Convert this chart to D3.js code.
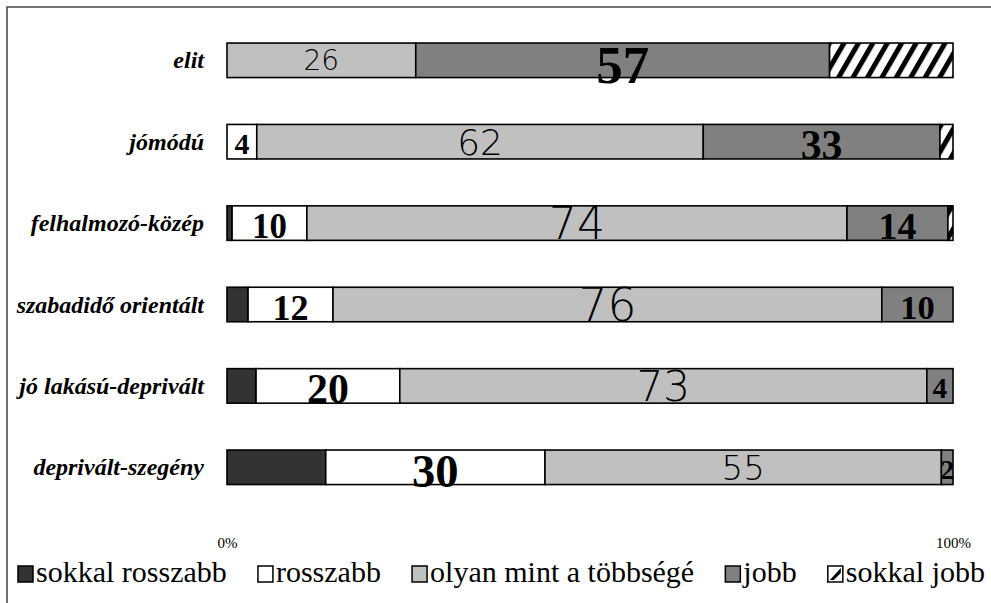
<!DOCTYPE html>
<html><head><meta charset="utf-8">
<script src="https://cdn.jsdelivr.net/npm/d3@7"></script>
<style>
html,body{margin:0;padding:0;background:#fff;}
svg{display:block;}
</style></head>
<body>
<svg id="chart" width="991" height="603"></svg>
<script>
// ---- data ----
const categories = ["elit", "jómódú", "felhalmozó-közép", "szabadidő orientált", "jó lakású-deprivált", "deprivált-szegény"];
const seriesNames = ["sokkal rosszabb", "rosszabb", "olyan mint a többségé", "jobb", "sokkal jobb"];
const sokkalRosszabb = [0, 0, 0.7, 2.9, 4.0, 13.6];
const rosszabb       = [0, 4.1, 10.3, 11.7, 19.8, 30.2];
const olyan          = [26, 61.5, 74.4, 75.6, 72.6, 54.6];
const jobb           = [57, 32.6, 13.9, 9.8, 3.6, 1.6];
const sokkalJobb     = [17, 1.8, 0.7, 0, 0, 0];
const axisTicks = [0, 100];

const seriesValues = [sokkalRosszabb, rosszabb, olyan, jobb, sokkalJobb];
const fills = ["#333333", "#ffffff", "#c0c0c0", "#808080", "url(#hatch)"];
const labeled = [false, true, true, true, false];

const svg = d3.select("#chart");
const defs = svg.append("defs");
const pat = defs.append("pattern").attr("id", "hatch").attr("patternUnits", "userSpaceOnUse")
  .attr("width", 12.5).attr("height", 12).attr("patternTransform", "rotate(30)");
pat.append("rect").attr("width", 12.5).attr("height", 12).attr("fill", "#fff");
pat.append("rect").attr("x", 0).attr("width", 5).attr("height", 12).attr("fill", "#000");

// frame
svg.append("path").attr("d", "M7,603V7H991").attr("fill", "none").attr("stroke", "#444").attr("stroke-width", 1.5);

const x = d3.scaleLinear().domain([0, 100]).range([227, 953]);
const y = d3.scaleBand().domain(categories).range([19.6, 508]).paddingInner(0.576).paddingOuter(0.288);

// stacked data
const rows = categories.map((c, i) => {
  const o = {cat: c};
  seriesNames.forEach((s, j) => o[s] = seriesValues[j][i]);
  return o;
});
const stack = d3.stack().keys(seriesNames)(rows);

const boldSize = d3.scaleLinear().domain([2, 14, 20, 30, 33, 57]).range([28, 38, 42, 47, 41, 53]).clamp(true);
const lightSize = d3.scaleLinear().domain([26, 55, 62, 72, 76]).range([28, 34, 36, 41.5, 46]).clamp(true);

stack.forEach((layer, j) => {
  const g = svg.append("g");
  g.selectAll("rect").data(layer.filter(d => d.data[layer.key] > 0)).enter().append("rect")
    .attr("x", d => x(d[0]))
    .attr("y", d => y(d.data.cat))
    .attr("width", d => x(d[1]) - x(d[0]))
    .attr("height", y.bandwidth())
    .attr("fill", fills[j])
    .attr("stroke", "#000")
    .attr("stroke-width", 1.6);
});

stack.forEach((layer, j) => {
  if (!labeled[j]) return;
  const light = j === 2;
  const val = d => d.data[layer.key];
  const size = d => light ? lightSize(val(d)) : boldSize(val(d));
  svg.append("g").selectAll("text").data(layer.filter(d => val(d) > 0)).enter().append("text")
    .attr("x", d => (x(d[0]) + x(d[1])) / 2)
    .attr("y", d => y(d.data.cat) + y.bandwidth() / 2 + size(d) * (light ? 0.36 : 0.42))
    .attr("text-anchor", "middle")
    .attr("font-family", light ? "'DejaVu Sans', sans-serif" : "'Liberation Serif', 'Times New Roman', serif")
    .attr("font-weight", light ? 200 : "bold")
    .attr("font-size", size)
    .attr("fill", "#000")
    .text(d => Math.round(val(d)));
});

// category labels
svg.append("g").selectAll("text").data(categories).enter().append("text")
  .attr("x", 204)
  .attr("y", d => y(d) + y.bandwidth() / 2 + 8)
  .attr("text-anchor", "end")
  .attr("font-family", "'Liberation Serif', 'Times New Roman', serif")
  .attr("font-style", "italic").attr("font-weight", "bold")
  .attr("font-size", 24)
  .text(d => d);

// axis tick labels
const ax = svg.append("g").attr("transform", "translate(0,534)")
  .call(d3.axisBottom(x).tickValues(axisTicks).tickFormat(d => d + "%").tickSize(0));
ax.select(".domain").remove();
ax.selectAll("text").attr("font-family", "'Liberation Serif', 'Times New Roman', serif").attr("font-size", 15).attr("fill", "#000");

// legend
const leg = svg.append("g");
const items = seriesNames.map((s, j) => {
  const g = leg.append("g");
  g.append("rect").attr("x", 0).attr("y", -16).attr("width", 15).attr("height", 16)
    .attr("fill", j === 4 ? "#fff" : fills[j]).attr("stroke", "#000").attr("stroke-width", 1.5);
  if (j === 4) {
    g.append("path").attr("d", "M2,-2L13,-14L13,-9L6,-2Z").attr("fill", "#000");
  }
  const t = g.append("text").attr("x", 18).attr("y", 0)
    .attr("font-family", "'Liberation Serif', 'Times New Roman', serif").attr("font-size", 30).text(s);
  return {g, w: 18 + t.node().getComputedTextLength()};
});
const legStart = 18, legEnd = 985;
const totalW = d3.sum(items, d => d.w);
const gap = (legEnd - legStart - totalW) / (items.length - 1);
let cx = legStart;
items.forEach(it => { it.g.attr("transform", `translate(${cx},582)`); cx += it.w + gap; });
</script>
</body></html>
